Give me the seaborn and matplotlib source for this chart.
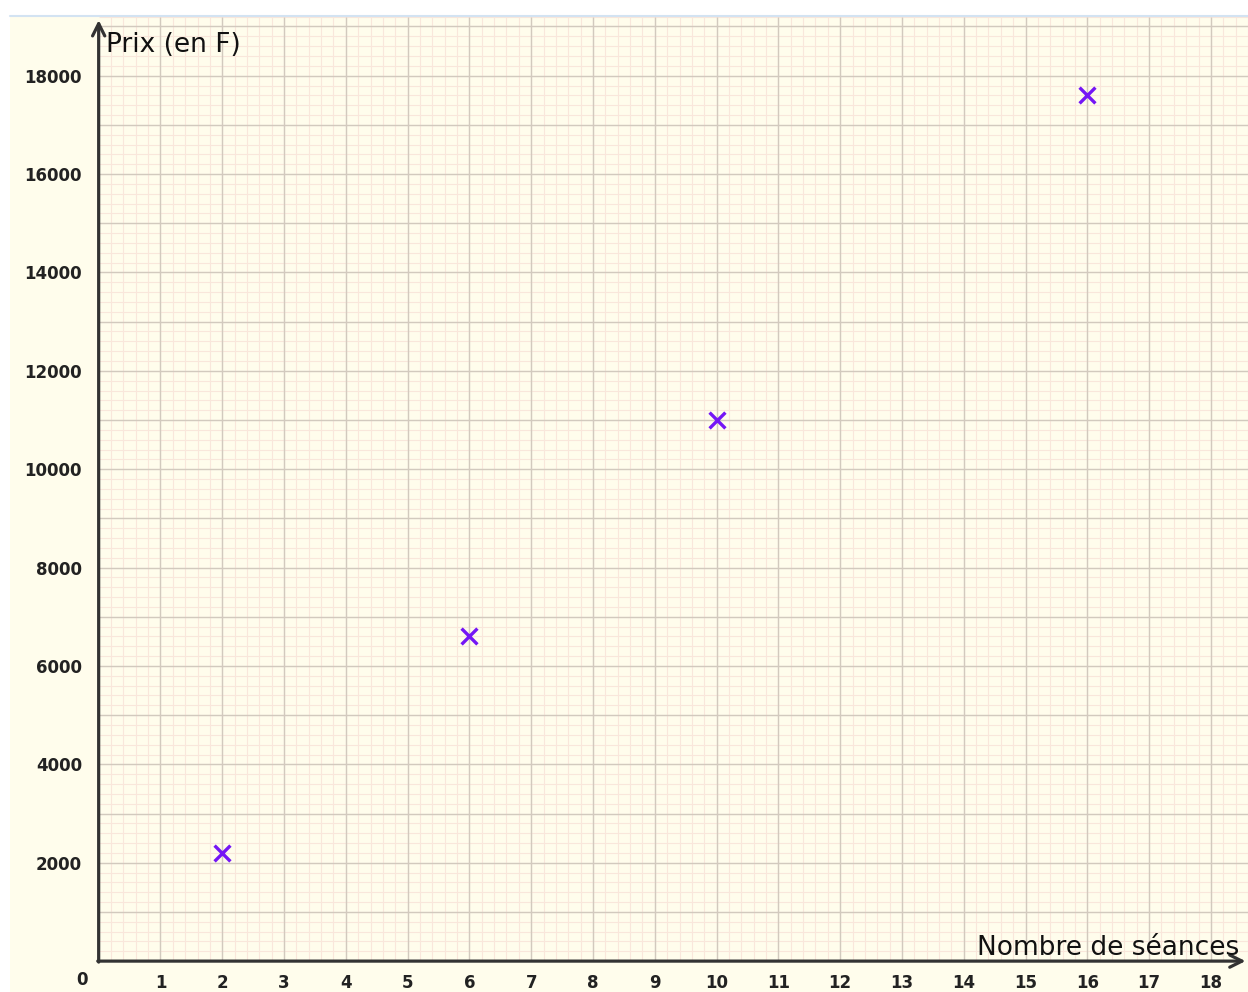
import numpy as np
import pandas as pd
import matplotlib
matplotlib.use("Agg")
import matplotlib.pyplot as plt
import seaborn as sns

# donnees
seances = [2, 6, 10, 16]
prix = [2200, 6600, 11000, 17600]
x_ticks = list(range(1, 19))
y_ticks = list(range(2000, 18001, 2000))

df = pd.DataFrame({"seances": seances, "prix": prix})

sns.set_style("white")
plt.rcParams["font.family"] = ["DejaVu Sans"]

fig = plt.figure(figsize=(12.48, 9.92), dpi=100)
ax = fig.add_axes([10 / 1248, 0, 1 - 10 / 1248, 1 - 17 / 992])
ax.set_facecolor("#fffdec")

xmin, xmax = -1.435, 18.60
ymin, ymax = -628, 19193
ax.set_xlim(xmin, xmax)
ax.set_ylim(ymin, ymax)

# quadrillage seulement dans le premier quadrant
ax.vlines(np.arange(0.2, 18.7, 0.2), 0, ymax, color="#f9e7db", lw=0.8, zorder=0)
ax.hlines(np.arange(200, 19300, 200), 0, xmax, color="#f9e7db", lw=0.8, zorder=0)
ax.vlines(np.arange(1, 19, 1), 0, ymax, color="#d2cabe", lw=1.0, zorder=0.5)
ax.hlines(np.arange(1000, 19300, 1000), 0, xmax, color="#d2cabe", lw=1.0, zorder=0.5)

sns.scatterplot(data=df, x="seances", y="prix", marker="x", s=130,
                color="#7416f5", linewidth=2.4, ax=ax, zorder=5)

# spines placees en (0,0) pour les graduations, traits invisibles
for side in ["top", "right"]:
    ax.spines[side].set_visible(False)
ax.spines["left"].set_position(("data", 0))
ax.spines["bottom"].set_position(("data", 0))
ax.spines["left"].set_linewidth(0)
ax.spines["bottom"].set_linewidth(0)

# les traits des axes avec fleches
arrow = dict(arrowstyle="->", color="#333333", lw=2.3, mutation_scale=22,
             shrinkA=0, shrinkB=0)
ax.annotate("", xy=(0, 19130), xytext=(0, -20), arrowprops=arrow)
ax.annotate("", xy=(18.56, 0), xytext=(-0.015, 0), arrowprops=arrow)

ax.set_xticks(x_ticks)
ax.set_xticklabels([str(v) for v in x_ticks], fontweight="bold")
ax.set_yticks(y_ticks)
ax.set_yticklabels([str(v) for v in y_ticks], fontweight="bold")
ax.tick_params(axis="x", length=0, pad=9, labelsize=12, labelcolor="#222222")
ax.tick_params(axis="y", length=4, width=1.5, color="#333333", direction="out",
               pad=8, labelsize=12, labelcolor="#222222")
ax.set_xlabel("")
ax.set_ylabel("")

ax.annotate("0", xy=(0, 0), xytext=(-17, -19), textcoords="offset pixels",
            ha="center", va="center", fontsize=12, fontweight="bold", color="#222222")

fig.text(106 / 1248, 1 - 52 / 992, "Prix (en F)", fontsize=19, va="baseline",
         color="#111111")
fig.text(977 / 1248, 1 - 955 / 992, "Nombre de séances", fontsize=19, va="baseline",
         color="#111111")

# filet bleu en haut
fig.add_artist(plt.Line2D([10 / 1248, 1], [1 - 16 / 992, 1 - 16 / 992],
                          color="#d3e3f2", lw=1.5))

fig.savefig("out.png", dpi=100, facecolor="white")
